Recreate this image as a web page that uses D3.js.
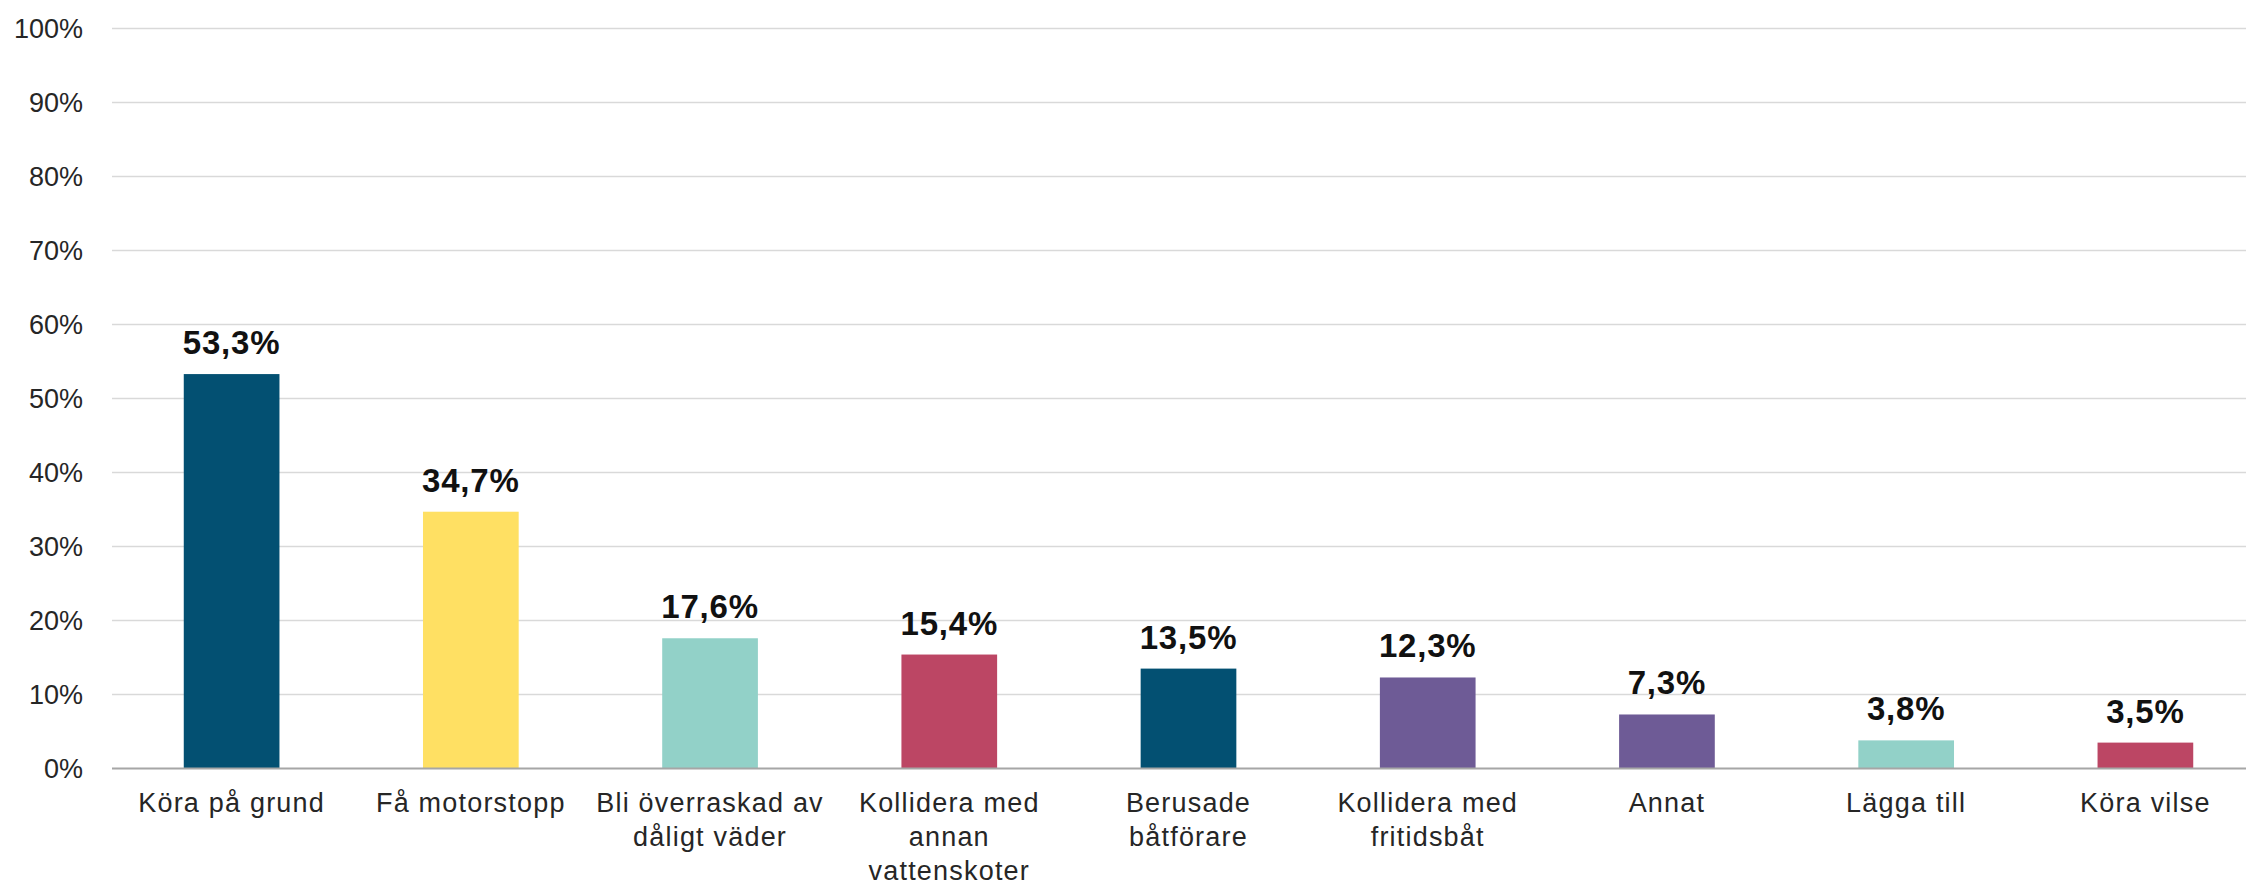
<!DOCTYPE html>
<html>
<head>
<meta charset="utf-8">
<script src="https://cdn.jsdelivr.net/npm/d3@7"></script>
<style>
    html, body { margin: 0; padding: 0; background: #fff; }
    svg { display: block; }
</style>
</head>
<body>
<div id="chart"></div>
<script>
const categories = [
    'Köra på grund',
    'Få motorstopp',
    'Bli överraskad av dåligt väder',
    'Kollidera med annan vattenskoter',
    'Berusade båtförare',
    'Kollidera med fritidsbåt',
    'Annat',
    'Lägga till',
    'Köra vilse'
];
const values = [0.533, 0.347, 0.176, 0.154, 0.135, 0.123, 0.073, 0.038, 0.035];
const barColors = ['#035072', '#FFE063', '#92D1C8', '#BC4664', '#035072', '#6E5B96', '#6E5B96', '#92D1C8', '#BC4664'];
const yTicks = [0, 0.1, 0.2, 0.3, 0.4, 0.5, 0.6, 0.7, 0.8, 0.9, 1];

const width = 2246;
const height = 886;
const plotLeft = 112;

const svg = d3.select('#chart').append('svg')
    .attr('width', width)
    .attr('height', height);

const x = d3.scaleBand()
    .domain(categories)
    .range([plotLeft, 2265])
    .paddingInner(0.6)
    .paddingOuter(0.3);

const y = d3.scaleLinear()
    .domain([0, 1])
    .range([768.5, 28.5]);

const sv = d3.formatLocale({ decimal: ',', thousands: ' ', grouping: [3], currency: ['', ' kr'] });
const pctLabel = sv.format('.1%');
const pctTick = sv.format('.0%');

// gridlines
svg.append('g')
    .selectAll('line')
    .data(yTicks.filter(d => d > 0))
    .enter()
    .append('line')
    .attr('x1', plotLeft)
    .attr('x2', width)
    .attr('y1', d => y(d))
    .attr('y2', d => y(d))
    .attr('stroke', '#D9D9D9')
    .attr('stroke-width', 1.5);

// y axis labels
const yAxis = svg.append('g')
    .attr('transform', 'translate(83,0)')
    .call(d3.axisLeft(y).tickValues(yTicks).tickFormat(pctTick).tickSize(0).tickPadding(0));
yAxis.select('.domain').remove();
yAxis.selectAll('text')
    .attr('font-family', '"Liberation Sans", Arial, sans-serif')
    .attr('font-size', 27)
    .attr('fill', '#262626');

// bars
svg.append('g')
    .selectAll('rect')
    .data(values)
    .enter()
    .append('rect')
    .attr('x', (d, i) => x(categories[i]))
    .attr('y', d => y(d))
    .attr('width', x.bandwidth())
    .attr('height', d => y(0) - y(d))
    .attr('fill', (d, i) => barColors[i]);

// baseline
svg.append('line')
    .attr('x1', plotLeft)
    .attr('x2', width)
    .attr('y1', y(0))
    .attr('y2', y(0))
    .attr('stroke', '#A6A6A6')
    .attr('stroke-width', 2);

// value labels
svg.append('g')
    .selectAll('text')
    .data(values)
    .enter()
    .append('text')
    .attr('x', (d, i) => x(categories[i]) + x.bandwidth() / 2)
    .attr('y', d => y(d) - 20)
    .attr('text-anchor', 'middle')
    .attr('font-family', '"Liberation Sans", Arial, sans-serif')
    .attr('font-weight', 'bold')
    .attr('font-size', 33)
    .attr('letter-spacing', 0.8)
    .attr('fill', '#111')
    .text(d => pctLabel(d));

// category labels, wrapped to the band step
const xAxis = svg.append('g')
    .attr('transform', `translate(0,${y(0)})`)
    .call(d3.axisBottom(x).tickSize(0).tickPadding(0));
xAxis.select('.domain').remove();
xAxis.selectAll('text')
    .attr('font-family', '"Liberation Sans", Arial, sans-serif')
    .attr('font-size', 27)
    .attr('letter-spacing', 1.2)
    .attr('fill', '#262626')
    .attr('dy', null)
    .attr('y', 0)
    .call(wrap, x.step());

function wrap(texts, maxWidth) {
    texts.each(function() {
        const text = d3.select(this);
        const words = text.text().split(/\s+/);
        text.text(null);
        let line = [];
        let lineNo = 0;
        let tspan = text.append('tspan').attr('x', 0).attr('y', 43);
        words.forEach(word => {
            line.push(word);
            tspan.text(line.join(' '));
            if (tspan.node().getComputedTextLength() > maxWidth && line.length > 1) {
                line.pop();
                tspan.text(line.join(' '));
                line = [word];
                lineNo++;
                tspan = text.append('tspan').attr('x', 0).attr('y', 43 + lineNo * 34).text(word);
            }
        });
    });
}
</script>
</body>
</html>
